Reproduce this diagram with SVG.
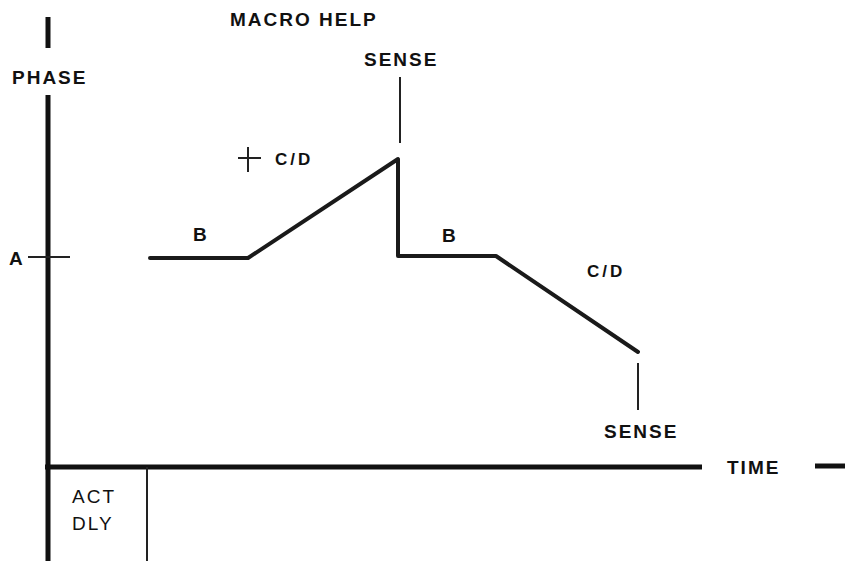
<svg xmlns="http://www.w3.org/2000/svg" width="845" height="561" viewBox="0 0 845 561">
<style>
.t{font-family:"Liberation Sans",Arial,sans-serif;font-weight:bold;font-size:19px;letter-spacing:2px;fill:#111}
.n{font-weight:normal}
.ax{stroke:#111;stroke-width:5;fill:none;stroke-linecap:butt}
.cv{stroke:#1a1a1a;stroke-width:4;fill:none;stroke-linejoin:round;stroke-linecap:round}
.th{stroke:#222;stroke-width:2;fill:none}
</style>
<rect width="845" height="561" fill="#fff"/>
<g id="connectors">
  <!-- phase axis -->
  <line class="ax" x1="48" y1="17" x2="48" y2="48"/>
  <line class="ax" x1="48" y1="95" x2="48" y2="561"/>
  <!-- time axis -->
  <line class="ax" x1="45" y1="467" x2="702" y2="467" stroke-width="6"/>
  <line class="ax" x1="815" y1="466" x2="845" y2="466" stroke-width="6"/>
  <!-- A tick -->
  <line class="th" x1="28" y1="257" x2="70" y2="257"/>
  <!-- ACT DLY divider -->
  <line class="th" x1="147" y1="467" x2="147" y2="561"/>
  <!-- phase curve -->
  <polyline class="cv" points="150,258 248,258 398,159 398,256 496,256 638,352"/>
  <!-- sense markers -->
  <line class="th" x1="400" y1="77" x2="400" y2="143"/>
  <line class="th" x1="638" y1="363" x2="638" y2="410"/>
  <!-- plus -->
  <line class="th" x1="238" y1="158" x2="261" y2="158"/>
  <line class="th" x1="248" y1="147" x2="248" y2="172"/>
</g>
<g id="title"><text class="t" x="230" y="26">MACRO HELP</text></g>
<g id="phase-label"><text class="t" x="12" y="84">PHASE</text></g>
<g id="a-label"><text class="t" x="9" y="265">A</text></g>
<g id="sense-top"><text class="t" x="364" y="66">SENSE</text></g>
<g id="cd-plus"><text class="t" x="275" y="165" font-size="17" style="font-size:17px;letter-spacing:3px">C/D</text></g>
<g id="b1"><text class="t" x="193" y="241">B</text></g>
<g id="b2"><text class="t" x="442" y="242">B</text></g>
<g id="cd-minus"><text class="t" x="587" y="277" style="font-size:17px;letter-spacing:3px">C/D</text></g>
<g id="sense-bottom"><text class="t" x="604" y="438">SENSE</text></g>
<g id="time-label"><text class="t" x="727" y="474">TIME</text></g>
<g id="act-dly"><text class="t n" x="72" y="503">ACT</text><text class="t n" x="72" y="530">DLY</text></g>
</svg>
